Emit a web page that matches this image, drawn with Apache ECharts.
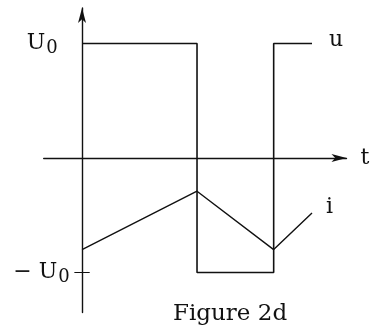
<!DOCTYPE html>
<html>
<head>
<meta charset="utf-8">
<script src="https://cdn.jsdelivr.net/npm/echarts@6/dist/echarts.min.js"></script>
<style>
  html, body { margin: 0; padding: 0; background: #fff; }
  #chart { width: 373px; height: 333px; }
</style>
</head>
<body>
<div id="chart"></div>
<script>
// Square-wave voltage u and the triangular current i it drives (in units of U0, time in arbitrary units)
const uTimes  = [0, 3, 3, 5, 5, 6];
const uValues = [1, 1, -1, -1, 1, 1];
const iTimes  = [0, 3, 5, 6];
const iValues = [-0.8, -0.29, -0.8, -0.48];
const levelTicks = [1, -1];

const ink = '#111';
const serif = 'DejaVu Serif';

const chart = echarts.init(document.getElementById('chart'), null, { renderer: 'canvas' });

chart.setOption({
  animation: false,
  backgroundColor: '#fff',
  title: {
    text: 'Figure 2d',
    left: 168,
    top: 298,
    textStyle: { fontFamily: serif, fontSize: 23, fontWeight: 'normal', color: ink }
  },
  grid: { left: 43.7, right: 26.5, top: 8, bottom: 20.4, containLabel: false, outerBoundsMode: 'none' },
  xAxis: {
    type: 'value',
    min: -1,
    max: 6.9,
    name: 't',
    nameLocation: 'end',
    nameGap: 14,
    nameTextStyle: { fontFamily: serif, fontSize: 22, color: ink, verticalAlign: 'middle', padding: [0, 0, 4, 0] },
    axisLine: { onZero: true, symbol: ['none', 'arrow'], symbolSize: [6, 15], lineStyle: { color: ink, width: 1.4 } },
    axisTick: { show: false },
    axisLabel: { show: false },
    splitLine: { show: false }
  },
  yAxis: {
    type: 'value',
    min: -1.35,
    max: 1.31,
    axisLine: { onZero: true, symbol: ['none', 'arrow'], symbolSize: [6, 15], lineStyle: { color: ink, width: 1.4 } },
    axisTick: { show: false },
    splitLine: { show: false },
    axisLabel: {
      show: true,
      customValues: levelTicks,
      margin: -26,
      formatter: v => v > 0 ? '{u|U}{s|0}{gap|}' : '{u|− U}{s|0}',
      rich: {
        u: { fontFamily: serif, fontSize: 22, color: ink },
        s: { fontFamily: serif, fontSize: 18, color: ink, padding: [10, 0, 0, 1] },
        gap: { width: 12 }
      }
    }
  },
  series: [
    {
      name: 'u',
      type: 'line',
      data: uTimes.map((t, k) => [t, uValues[k]]),
      symbol: 'none',
      lineStyle: { color: ink, width: 1.6 },
      endLabel: {
        show: true,
        formatter: 'u',
        distance: 17,
        offset: [0, -3],
        fontFamily: serif, fontSize: 22, color: ink
      }
    },
    {
      name: 'i',
      type: 'line',
      data: iTimes.map((t, k) => [t, iValues[k]]),
      symbol: 'none',
      lineStyle: { color: ink, width: 1.4 },
      endLabel: {
        show: true,
        formatter: 'i',
        distance: 14,
        offset: [0, -6],
        fontFamily: serif, fontSize: 22, color: ink
      }
    },
    {
      // short tick crossing the axis at −U0
      name: 'tick',
      type: 'line',
      data: [[-0.2, -1], [0.2, -1]],
      symbol: 'none',
      lineStyle: { color: ink, width: 1.2 },
      silent: true
    }
  ]
});
</script>
</body>
</html>
